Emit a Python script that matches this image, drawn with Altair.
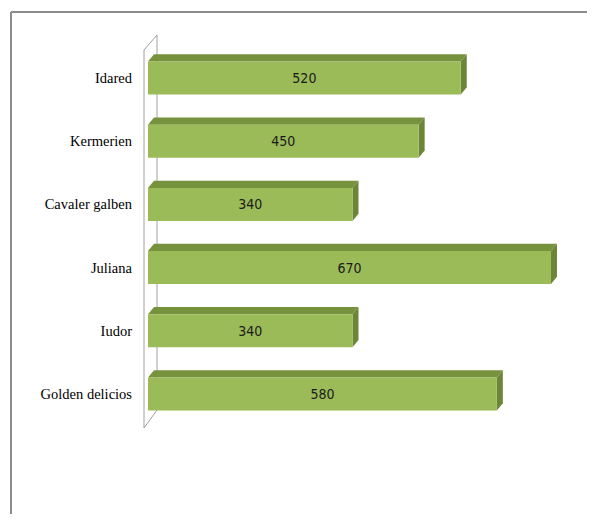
import altair as alt
import pandas as pd

# ---- data ----
categories = ["Idared", "Kermerien", "Cavaler galben", "Juliana", "Iudor", "Golden delicios"]
values = [520, 450, 340, 670, 340, 580]

# ---- styling / geometry constants ----
FRONT = "#9BBB59"
TOP = "#77923C"
SIDE = "#6B8636"
GRID = "#A0A0A0"
HALF = 0.261   # half bar thickness (category units)
DX = 10        # 3D depth along x (value units)
DY = 0.115     # 3D depth along y (category units)

xs = alt.Scale(domain=[0, 700], range=[140, 561])
ys = alt.Scale(domain=[0, 5], range=[70, 386])

base = pd.DataFrame({"cat": categories, "value": values, "idx": list(range(len(categories)))})
corners = pd.DataFrame({"k": [0, 1]})
faces = base.merge(corners, how="cross")

# wall outline of the category axis (x in value units, y in category units)
wall = pd.DataFrame({
    "o": [0, 1, 2, 3, 4],
    "wx": [15, 15, -6.65, -6.65, 15],
    "wy": [-0.68, 5.253, 5.538, -0.443, -0.68],
})

wall_layer = alt.Chart(wall).mark_line(color=GRID, strokeWidth=1).encode(
    x=alt.X("wx:Q", scale=xs, axis=None),
    y=alt.Y("wy:Q", scale=ys, axis=None),
    order="o:O",
)

top_layer = alt.Chart(faces).transform_calculate(
    ty=f"datum.idx - {HALF} - datum.k * {DY}",
    tx=f"datum.k * {DX}",
    tx2=f"datum.value + datum.k * {DX}",
).mark_area(orient="horizontal", color=TOP, opacity=1).encode(
    y=alt.Y("ty:Q", scale=ys, axis=None),
    x=alt.X("tx:Q", scale=xs, axis=None),
    x2="tx2:Q",
    detail="cat:N",
)

side_layer = alt.Chart(faces).transform_calculate(
    sx=f"datum.value + datum.k * {DX}",
    sy=f"datum.idx - {HALF} - datum.k * {DY}",
    sy2=f"datum.idx + {HALF} - datum.k * {DY}",
).mark_area(orient="vertical", color=SIDE, opacity=1).encode(
    x=alt.X("sx:Q", scale=xs, axis=None),
    y=alt.Y("sy:Q", scale=ys, axis=None),
    y2="sy2:Q",
    detail="cat:N",
)

front_layer = alt.Chart(base).transform_calculate(
    x0="0",
    yt=f"datum.idx - {HALF}",
    yb=f"datum.idx + {HALF}",
).mark_rect(color=FRONT).encode(
    x=alt.X("x0:Q", scale=xs, axis=None),
    x2="value:Q",
    y=alt.Y("yt:Q", scale=ys, axis=None),
    y2="yb:Q",
)

value_labels = alt.Chart(base).transform_calculate(
    mid="datum.value / 2"
).mark_text(
    font="Liberation Sans Narrow, DejaVu Sans Condensed, sans-serif",
    fontSize=14, color="#1a1a1a", align="center", baseline="middle", dy=1,
).encode(
    x=alt.X("mid:Q", scale=xs, axis=None),
    y=alt.Y("idx:Q", scale=ys, axis=None),
    text="value:Q",
)

cat_labels = alt.Chart(base).mark_text(
    font="Liberation Serif", fontSize=14.5, color="black", align="right", baseline="middle", dy=1,
).encode(
    x=alt.value(124),
    y=alt.Y("idx:Q", scale=ys, axis=None),
    text="cat:N",
)

frame_top = alt.Chart(base).mark_rule(color="#8C8C8C", strokeWidth=1.5).encode(
    x=alt.value(3), x2=alt.value(579), y=alt.value(4)
)
frame_left = alt.Chart(base).mark_rule(color="#8C8C8C", strokeWidth=1.5).encode(
    x=alt.value(3), y=alt.value(4), y2=alt.value(506)
)

chart = alt.layer(
    frame_top, frame_left, wall_layer, top_layer, side_layer, front_layer, value_labels, cat_labels
).properties(
    width=579, height=506,
    autosize=alt.AutoSizeParams(type="none"),
    padding=0,
    background="white",
).configure_view(stroke=None)

chart.save("out.html", embed_options={"renderer": "svg", "actions": False})
